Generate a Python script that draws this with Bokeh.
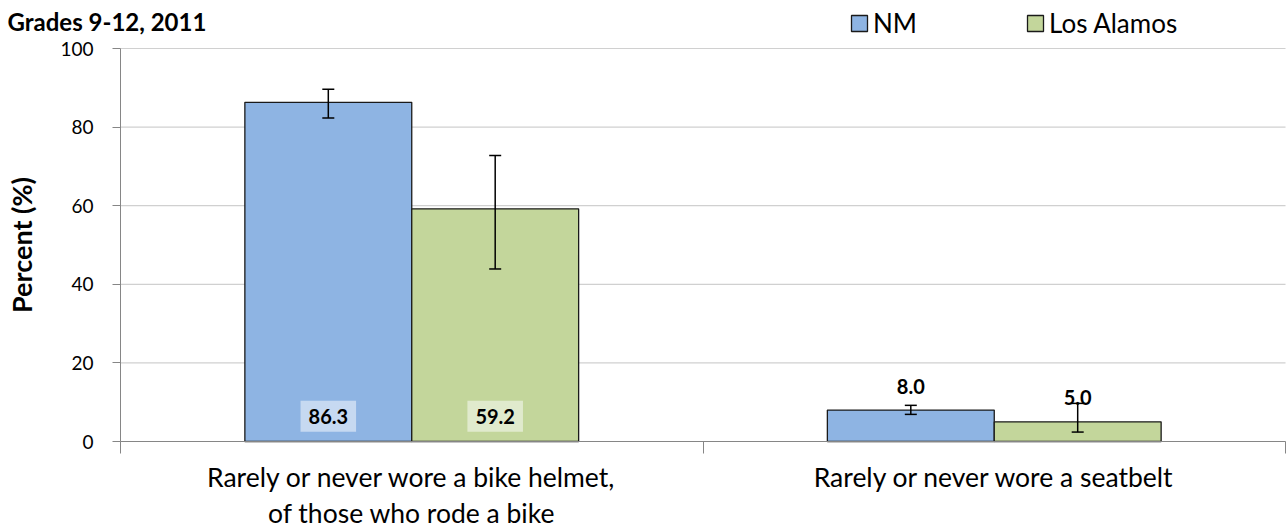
from bokeh.plotting import figure
from bokeh.models import (ColumnDataSource, Whisker, TeeHead, FixedTicker, LabelSet, Label,
                          Legend, LegendItem, Range1d)
from bokeh.core.properties import value
from bokeh.embed import file_html
from bokeh.resources import INLINE

title_text = "Grades 9-12, 2011"
categories = ["Rarely or never wore a bike helmet,\nof those who rode a bike",
              "Rarely or never wore a seatbelt"]
series = ["NM", "Los Alamos"]
nm_values = [86.3, 8.0]
la_values = [59.2, 5.0]
nm_lower = [82.3, 6.9]
nm_upper = [89.6, 9.2]
la_lower = [43.9, 2.4]
la_upper = [72.8, 9.7]
y_ticks = [0, 20, 40, 60, 80, 100]

FONT = "Lato"
NM_COLOR = "#8EB4E3"
LA_COLOR = "#C3D69B"
BW = 0.2865

W, H = 1287, 529
PLOT_LEFT, PLOT_RIGHT, PLOT_TOP, PLOT_BOTTOM = 120, 1285, 48, 441
NCAT = len(categories)
YMAX = y_ticks[-1]

# ranges chosen so the frame covers the whole canvas (axes drawn at data origin)
xpx = (PLOT_RIGHT - PLOT_LEFT) / NCAT
ypx = (PLOT_BOTTOM - PLOT_TOP) / YMAX
x_range = Range1d(-PLOT_LEFT / xpx, NCAT + (W - PLOT_RIGHT) / xpx)
y_range = Range1d(-(H - PLOT_BOTTOM) / ypx, PLOT_BOTTOM / ypx)

centers = [i + 0.5 for i in range(NCAT)]
nm_x = [c - BW / 2 for c in centers]
la_x = [c + BW / 2 for c in centers]

p = figure(width=W, height=H, output_backend="svg", toolbar_location=None,
           x_range=x_range, y_range=y_range, min_border=0,
           min_border_left=0, min_border_right=0, min_border_top=0, min_border_bottom=0)
p.outline_line_color = None
p.background_fill_color = "white"
p.xgrid.visible = False
p.ygrid.visible = False

# horizontal gridlines at tick values, spanning the category axis
p.segment(x0=[0] * len(y_ticks), x1=[NCAT] * len(y_ticks), y0=y_ticks, y1=y_ticks,
          line_color="#D0D0D0", line_width=1.2)

nm_src = ColumnDataSource(dict(x=nm_x, top=nm_values, lo=nm_lower, hi=nm_upper))
la_src = ColumnDataSource(dict(x=la_x, top=la_values, lo=la_lower, hi=la_upper))

r_nm = p.vbar(x="x", top="top", width=BW, bottom=0, source=nm_src,
              fill_color=NM_COLOR, line_color="#1a1a1a", line_width=1.3)
r_la = p.vbar(x="x", top="top", width=BW, bottom=0, source=la_src,
              fill_color=LA_COLOR, line_color="#1a1a1a", line_width=1.3)

for src in (nm_src, la_src):
    w = Whisker(base="x", lower="lo", upper="hi", source=src, line_color="black", line_width=1.5,
                level="annotation",
                lower_head=TeeHead(size=12, line_color="black", line_width=1.5),
                upper_head=TeeHead(size=12, line_color="black", line_width=1.5))
    p.add_layout(w)

# data labels: first category inside bars (with box), second above bars
for xv, v, bg in ((nm_x[0], nm_values[0], "#C6D9F1"), (la_x[0], la_values[0], "#E0EACD")):
    p.add_layout(Label(x=xv, y=6.4, text=f"{v:.1f}", text_align="center",
                       text_baseline="middle", text_font=FONT, text_font_style="bold",
                       text_font_size="20px", text_color="black",
                       background_fill_color=bg, padding=8))

out_src = ColumnDataSource(dict(x=[nm_x[1], la_x[1]], y=[nm_values[1], la_values[1]],
                                lab=[f"{nm_values[1]:.1f}", f"{la_values[1]:.1f}"]))
p.add_layout(LabelSet(x="x", y="y", text="lab", source=out_src, text_align="center",
                      text_baseline="middle", y_offset=24, text_font=value(FONT),
                      text_font_style="bold", text_font_size="20px", text_color="black"))

# y axis, drawn at the category axis origin
p.yaxis.fixed_location = 0
p.yaxis.bounds = (0, YMAX)
p.yaxis.ticker = FixedTicker(ticks=y_ticks)
p.yaxis.axis_line_color = "#868686"
p.yaxis.major_tick_line_color = "#868686"
p.yaxis.major_tick_out = 8
p.yaxis.major_tick_in = 0
p.yaxis.minor_tick_line_color = None
p.yaxis.major_label_text_font = FONT
p.yaxis.major_label_text_font_size = "19px"
p.yaxis.major_label_text_color = "black"
p.yaxis.major_label_standoff = 19
p.yaxis.axis_label = "Percent (%)"
p.yaxis.axis_label_text_font = FONT
p.yaxis.axis_label_text_font_style = "bold"
p.yaxis.axis_label_text_font_size = "27px"
p.yaxis.axis_label_text_color = "black"
p.yaxis.axis_label_standoff = 19

# x axis, drawn at y = 0
p.xaxis.fixed_location = 0
p.xaxis.bounds = (0, NCAT)
p.xaxis.ticker = FixedTicker(ticks=centers, minor_ticks=list(range(NCAT + 1)))
p.xaxis.major_label_overrides = {c: cat for c, cat in zip(centers, categories)}
p.xaxis.major_tick_line_color = None
p.xaxis.major_tick_out = 0
p.xaxis.major_tick_in = 0
p.xaxis.minor_tick_line_color = "#868686"
p.xaxis.minor_tick_out = 12
p.xaxis.minor_tick_in = 0
p.xaxis.axis_line_color = "#868686"
p.xaxis.major_label_text_font = FONT
p.xaxis.major_label_text_font_size = "26.5px"
p.xaxis.major_label_text_line_height = 1.15
p.xaxis.major_label_text_color = "black"
p.xaxis.major_label_standoff = 7

# title
p.add_layout(Label(x=7, y=H - 21, x_units="screen", y_units="screen",
                   text=title_text, text_font=FONT, text_font_style="bold",
                   text_font_size="24px", text_color="black", text_baseline="middle"))

# legend
legend = Legend(items=[LegendItem(label=series[0], renderers=[r_nm]),
                       LegendItem(label=series[1], renderers=[r_la])],
                orientation="horizontal", location=(849, H - 39),
                glyph_width=20, glyph_height=20, label_standoff=4, spacing=108,
                label_text_font=FONT, label_text_font_size="26px",
                label_text_color="black", border_line_color=None,
                background_fill_alpha=0, padding=0, margin=0)
p.add_layout(legend)

open("out.html", "w").write(file_html(p, INLINE))
